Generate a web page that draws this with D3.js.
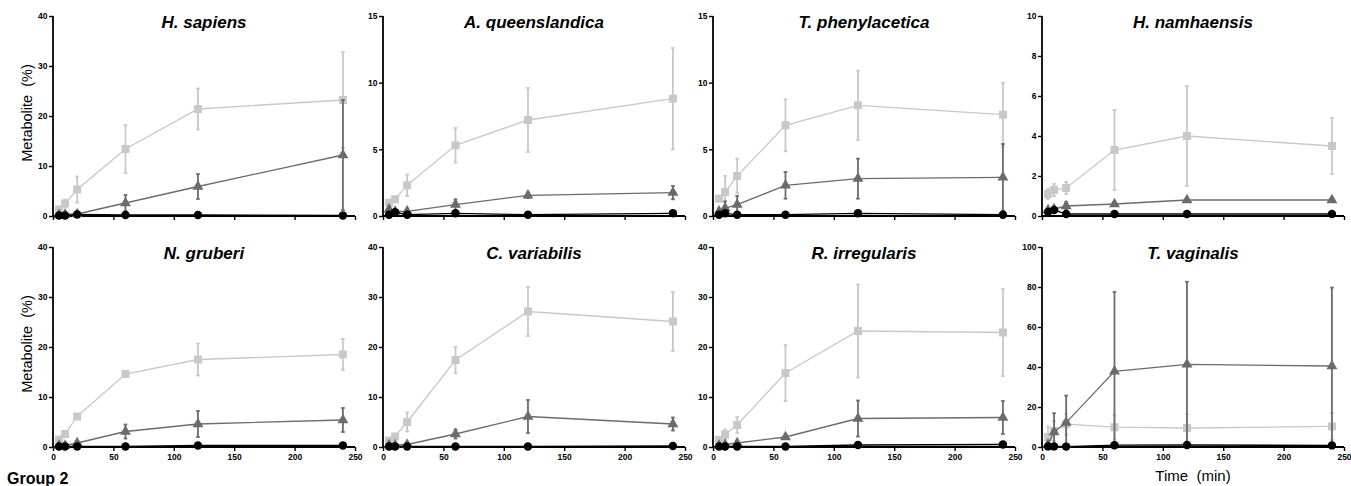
<!DOCTYPE html>
<html>
<head>
<meta charset="utf-8">
<script src="https://cdn.jsdelivr.net/npm/d3@7"></script>
<style>
  body { margin: 0; background: #fff; }
  svg { display: block; font-family: "Liberation Sans", Arial, sans-serif; }
</style>
</head>
<body>
<div id="chart"></div>
<script>
// sampling times (min) and axis ticks
const times = [5, 10, 20, 60, 120, 240];
const xTicks = [0, 50, 100, 150, 200, 250];
const species = [
  "H. sapiens", "A. queenslandica", "T. phenylacetica", "H. namhaensis",
  "N. gruberi", "C. variabilis", "R. irregularis", "T. vaginalis"
];
const yMaxes = [40, 15, 15, 10, 40, 40, 40, 100];
const yTicks = [
  [0, 10, 20, 30, 40], [0, 5, 10, 15], [0, 5, 10, 15], [0, 2, 4, 6, 8, 10],
  [0, 10, 20, 30, 40], [0, 10, 20, 30, 40], [0, 10, 20, 30, 40], [0, 20, 40, 60, 80, 100]
];

// light grey squares
const squareMeans = [
  [1.3, 2.5, 5.3, 13.4, 21.4, 23.2],
  [1.0, 1.25, 2.3, 5.3, 7.2, 8.8],
  [1.3, 1.8, 3.0, 6.8, 8.3, 7.6],
  [1.1, 1.3, 1.4, 3.3, 4.0, 3.5],
  [1.5, 2.6, 6.1, 14.6, 17.5, 18.5],
  [1.3, 2.1, 5.0, 17.4, 27.1, 25.1],
  [1.4, 2.5, 4.4, 14.8, 23.2, 22.9],
  [5.0, 8.0, 11.4, 9.9, 9.5, 10.3]
];
const squareErrs = [
  [0.5, 0.8, 2.6, 4.8, 4.1, 9.6],
  [0.2, 0.2, 0.8, 1.3, 2.4, 3.8],
  [0.2, 1.2, 1.3, 1.95, 2.6, 2.4],
  [0.25, 0.3, 0.3, 2.0, 2.5, 1.4],
  [0.3, 0.3, 0.4, 0.4, 3.2, 3.1],
  [0.3, 0.4, 1.9, 2.6, 4.9, 5.9],
  [0.4, 1.0, 1.6, 5.6, 9.3, 8.7],
  [5.3, 5.0, 5.3, 6.2, 7.0, 6.6]
];
// dark grey triangles
const triangleMeans = [
  [0.2, 0.3, 0.4, 2.6, 5.9, 12.2],
  [0.5, 0.35, 0.35, 0.85, 1.55, 1.75],
  [0.35, 0.6, 0.85, 2.3, 2.8, 2.9],
  [0.3, 0.35, 0.5, 0.6, 0.8, 0.8],
  [0.3, 0.3, 0.8, 3.1, 4.6, 5.4],
  [0.4, 0.4, 0.5, 2.6, 6.1, 4.6],
  [0.3, 0.5, 0.8, 2.0, 5.7, 5.9],
  [1.2, 7.5, 12.2, 37.8, 41.3, 40.5]
];
const triangleErrs = [
  [0.2, 0.2, 0.3, 1.6, 2.5, 11.0],
  [0.2, 0.1, 0.1, 0.4, 0.2, 0.5],
  [0.2, 0.5, 0.65, 1.0, 1.5, 2.5],
  [0.1, 0.1, 0.2, 0.1, 0.1, 0.1],
  [0.2, 0.2, 0.3, 1.4, 2.6, 2.4],
  [0.2, 0.2, 0.2, 0.9, 3.3, 1.3],
  [0.2, 0.2, 0.3, 0.3, 3.6, 3.3],
  [1.0, 9.4, 13.5, 39.7, 41.3, 39.2]
];
// black circles
const circleMeans = [
  [0.1, 0.1, 0.3, 0.2, 0.2, 0.1],
  [0.1, 0.28, 0.1, 0.2, 0.1, 0.2],
  [0.1, 0.2, 0.1, 0.1, 0.2, 0.1],
  [0.2, 0.3, 0.1, 0.1, 0.1, 0.1],
  [0.1, 0.1, 0.1, 0.1, 0.3, 0.3],
  [0.1, 0.1, 0.1, 0.1, 0.1, 0.2],
  [0.1, 0.1, 0.1, 0.1, 0.4, 0.5],
  [0.3, 0.3, 0.2, 0.9, 1.0, 0.8]
];

const width = 1351, height = 486;
const panelLeft = [53, 383, 713, 1042];
const rowTop = [16, 247];
const plotW = 302, plotH = 200;
const squareColor = "#c8c8c8", triangleColor = "#6b6b6b", circleColor = "#000";

const svg = d3.select("#chart").append("svg")
  .attr("width", width)
  .attr("height", height);

const drawPanel = (i) => {
  const row = Math.floor(i / 4), col = i % 4;
  const g = svg.append("g")
    .attr("transform", `translate(${panelLeft[col]}, ${rowTop[row]})`);

  const x = d3.scaleLinear().domain([0, 250]).range([0, plotW]);
  const y = d3.scaleLinear().domain([0, yMaxes[i]]).range([plotH, 0]);

  // axes
  const xAxis = g.append("g")
    .attr("transform", `translate(0, ${plotH})`)
    .call(d3.axisBottom(x).tickValues(xTicks).tickSize(4).tickPadding(3)
      .tickFormat(row === 1 ? d3.format("d") : () => ""));
  const yAxis = g.append("g")
    .call(d3.axisLeft(y).tickValues(yTicks[i]).tickSize(4).tickPadding(1.5));
  [xAxis, yAxis].forEach((a) => {
    a.select(".domain").attr("stroke", "#000").attr("stroke-width", 1.8);
    a.selectAll(".tick line").attr("stroke", "#000").attr("stroke-width", 1.4);
    a.selectAll(".tick text")
      .style("font-family", "'Liberation Sans', Arial, sans-serif")
      .style("font-size", "8.5px")
      .style("font-weight", "bold")
      .attr("fill", "#000");
  });
  // plain x/y axis lines without end ticks
  xAxis.select(".domain").attr("d", `M0,0H${plotW}`);
  yAxis.select(".domain").attr("d", `M0,0V${plotH}`);

  // title
  g.append("text")
    .attr("x", plotW / 2)
    .attr("y", 11.5)
    .attr("text-anchor", "middle")
    .style("font-size", "17px")
    .style("font-weight", "bold")
    .style("font-style", "italic")
    .text(species[i]);

  const clampY = (v) => y(Math.max(0, Math.min(yMaxes[i], v)));

  const drawSeries = (means, errs, color, shape) => {
    const pts = times.map((t, k) => ({ t, v: means[k], e: errs ? errs[k] : 0 }));
    const line = d3.line().x((d) => x(d.t)).y((d) => y(d.v));
    g.append("path")
      .datum(pts)
      .attr("d", line)
      .attr("fill", "none")
      .attr("stroke", color)
      .attr("stroke-width", 1.3);

    if (errs) {
      const bars = g.append("g").attr("stroke", color).attr("stroke-width", 1.8);
      pts.forEach((d) => {
        const y1 = clampY(d.v + d.e), y2 = clampY(d.v - d.e);
        bars.append("line").attr("x1", x(d.t)).attr("x2", x(d.t)).attr("y1", y1).attr("y2", y2);
        bars.append("line").attr("x1", x(d.t) - 1.8).attr("x2", x(d.t) + 1.8).attr("y1", y1).attr("y2", y1);
        if (d.v - d.e > 0)
          bars.append("line").attr("x1", x(d.t) - 1.8).attr("x2", x(d.t) + 1.8).attr("y1", y2).attr("y2", y2);
      });
    }

    g.append("g").selectAll("path")
      .data(pts)
      .enter()
      .append("path")
      .attr("transform", (d) => `translate(${x(d.t)}, ${y(d.v)})`)
      .attr("d", d3.symbol().type(shape).size(shape === d3.symbolTriangle ? 52 : shape === d3.symbolSquare ? 64 : 56)())
      .attr("fill", color);
  };

  drawSeries(squareMeans[i], squareErrs[i], squareColor, d3.symbolSquare);
  drawSeries(triangleMeans[i], triangleErrs[i], triangleColor, d3.symbolTriangle);
  drawSeries(circleMeans[i], null, circleColor, d3.symbolCircle);
};

species.forEach((s, i) => drawPanel(i));

// y axis labels on the left column
rowTop.forEach((top) => {
  svg.append("text")
    .attr("transform", `translate(32, ${top + plotH / 2 - 3}) rotate(-90)`)
    .attr("text-anchor", "middle")
    .style("font-size", "14.5px")
    .style("white-space", "pre")
    .attr("xml:space", "preserve")
    .text("Metabolite  (%)");
});

// x axis label under the last panel
svg.append("text")
  .attr("x", panelLeft[3] + plotW / 2)
  .attr("y", 481)
  .attr("text-anchor", "middle")
  .style("font-size", "15px")
  .style("white-space", "pre")
  .attr("xml:space", "preserve")
  .text("Time  (min)");

// next figure group heading at the bottom edge
svg.append("text")
  .attr("x", 7)
  .attr("y", 484)
  .style("font-size", "16px")
  .style("font-weight", "bold")
  .text("Group 2");
</script>
</body>
</html>
